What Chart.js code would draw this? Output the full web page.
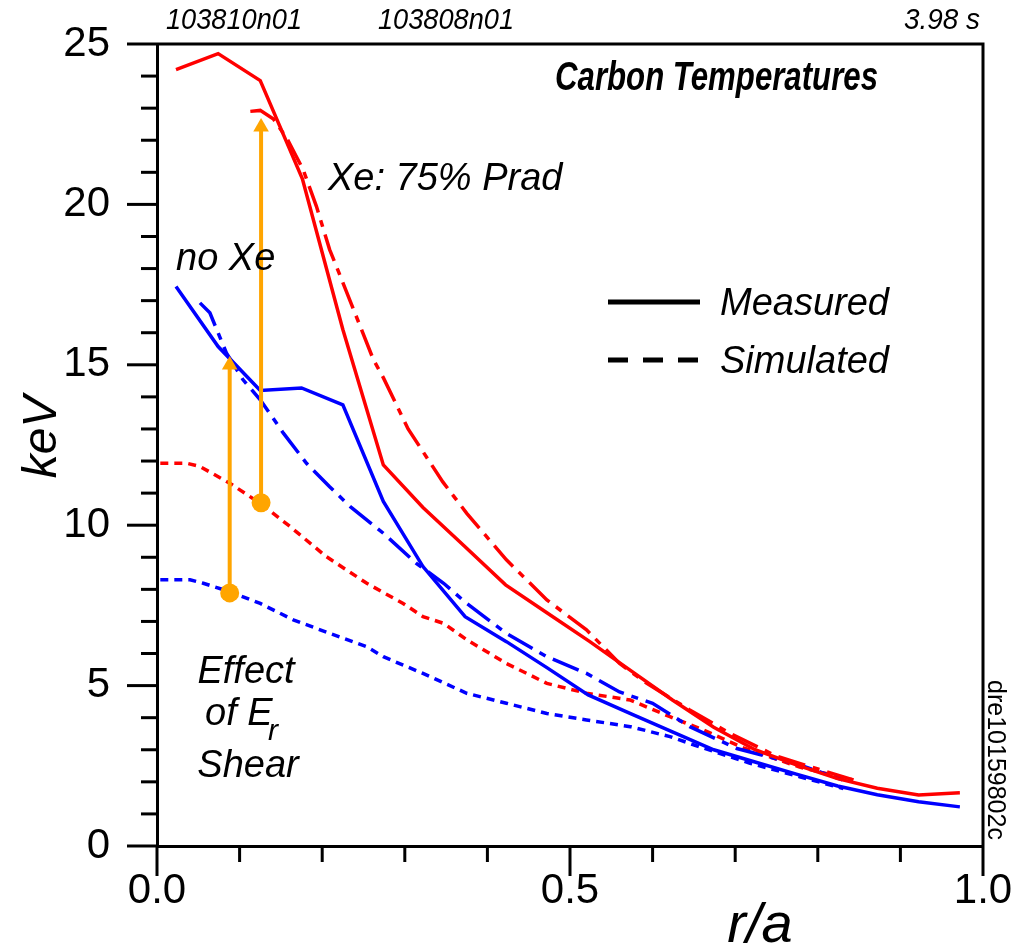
<!DOCTYPE html>
<html>
<head>
<meta charset="utf-8">
<script src="https://cdn.jsdelivr.net/npm/chart.js@4/dist/chart.umd.min.js"></script>
<style>
  html, body { margin: 0; padding: 0; background: #fff; }
  canvas { display: block; }
</style>
</head>
<body>
<canvas id="tempChart" width="1017" height="946"></canvas>
<script>
// Carbon temperature profiles, r/a vs keV
const kevLabels = [0, 5, 10, 15, 20, 25];
const raLabels = [0, 0.5, 1.0];

// measured, Xe: 75% Prad
const xeMeasR = [0.023, 0.074, 0.125, 0.176, 0.225, 0.274, 0.322, 0.372, 0.422, 0.472, 0.524, 0.574, 0.624, 0.674, 0.724, 0.774, 0.824, 0.872, 0.922, 0.972];
const xeMeasT = [24.2, 24.7, 23.86, 20.8, 16.1, 11.88, 10.55, 9.35, 8.14, 7.27, 6.37, 5.46, 4.55, 3.7, 3.0, 2.53, 2.1, 1.8, 1.59, 1.66];

// measured, no Xe
const noXeMeasR = [0.023, 0.074, 0.125, 0.175, 0.225, 0.274, 0.322, 0.373, 0.423, 0.472, 0.522, 0.574, 0.624, 0.674, 0.724, 0.774, 0.824, 0.872, 0.922, 0.972];
const noXeMeasT = [17.44, 15.57, 14.2, 14.28, 13.75, 10.74, 8.71, 7.15, 6.37, 5.56, 4.71, 4.12, 3.56, 3.0, 2.62, 2.24, 1.87, 1.6, 1.38, 1.22];

// simulated with Er shear, Xe
const xeSimR = [0.113, 0.125, 0.141, 0.157, 0.177, 0.193, 0.209, 0.222, 0.262, 0.274, 0.304, 0.346, 0.375, 0.423, 0.472, 0.52, 0.56, 0.593, 0.645, 0.694, 0.75, 0.8, 0.843];
const xeSimT = [22.9, 22.93, 22.66, 22.07, 21.08, 19.94, 18.59, 17.76, 15.16, 14.6, 13.0, 11.35, 10.37, 8.92, 7.67, 6.74, 5.69, 5.07, 4.24, 3.51, 2.8, 2.4, 2.06];

// simulated without Er shear, Xe
const xeNoShearR = [0.004, 0.036, 0.052, 0.088, 0.125, 0.161, 0.205, 0.254, 0.298, 0.322, 0.347, 0.375, 0.423, 0.472, 0.52, 0.573, 0.621, 0.661, 0.71, 0.778, 0.843];
const xeNoShearT = [11.93, 11.93, 11.83, 11.31, 10.68, 9.96, 9.02, 8.19, 7.56, 7.15, 6.94, 6.43, 5.69, 5.07, 4.76, 4.55, 4.03, 3.62, 3.06, 2.46, 2.06];

// simulated with Er shear, no Xe
const noXeSimR = [0.052, 0.064, 0.084, 0.104, 0.125, 0.153, 0.181, 0.209, 0.234, 0.274, 0.314, 0.347, 0.375, 0.423, 0.472, 0.52, 0.56, 0.6, 0.645, 0.702, 0.778, 0.83];
const noXeSimT = [16.93, 16.62, 15.37, 14.54, 13.91, 12.87, 11.93, 11.2, 10.58, 9.75, 8.81, 8.19, 7.56, 6.63, 5.9, 5.38, 4.8, 4.45, 3.72, 3.04, 2.53, 2.06];

// simulated without Er shear, no Xe
const noXeNoShearR = [0.004, 0.04, 0.056, 0.088, 0.125, 0.165, 0.209, 0.254, 0.274, 0.322, 0.375, 0.423, 0.472, 0.52, 0.573, 0.621, 0.657, 0.718, 0.778, 0.831];
const noXeNoShearT = [8.3, 8.3, 8.19, 7.93, 7.56, 7.05, 6.63, 6.21, 5.9, 5.38, 4.76, 4.45, 4.13, 3.93, 3.72, 3.41, 3.09, 2.58, 2.16, 1.79];

// shear effect arrows: [from, to]
const arrowNoXeR = [0.088, 0.088];
const arrowNoXeT = [7.89, 14.99];
const arrowXeR = [0.126, 0.126];
const arrowXeT = [10.7, 22.41];

const RED = '#ff0000';
const BLUE = '#0000ff';
const ORANGE = '#ffa500';
const FONT = "'Liberation Sans', Arial, sans-serif";

function pts(xs, ys) {
    return xs.map((x, i) => ({ x: x, y: ys[i] }));
}

function profile(xs, ys, color, dash) {
    return {
        data: pts(xs, ys),
        borderColor: color,
        borderWidth: 3.5,
        borderDash: dash,
        pointRadius: 0,
        tension: 0,
        fill: false
    };
}

function arrow(xs, ys) {
    return {
        data: pts(xs, ys),
        borderColor: ORANGE,
        borderWidth: 4,
        pointStyle: ['circle', 'triangle'],
        pointRadius: [9.5, 9],
        pointBackgroundColor: ORANGE,
        pointBorderColor: ORANGE,
        pointBorderWidth: 0,
        tension: 0,
        fill: false
    };
}

// draw text squeezed horizontally into a given width (condensed look)
function squeezeText(ctx, text, x, y, width) {
    const w = ctx.measureText(text).width;
    ctx.save();
    ctx.translate(x, y);
    ctx.scale(Math.min(1, width / w), 1);
    ctx.textAlign = 'left';
    ctx.fillText(text, 0, 0);
    ctx.restore();
}

// frame, tick marks and text annotations
const decorations = {
    id: 'decorations',
    afterDraw(chart) {
        const ctx = chart.ctx;
        const area = chart.chartArea;
        const xs = chart.scales.x;
        const ys = chart.scales.y;
        ctx.save();
        ctx.strokeStyle = '#000';
        ctx.lineWidth = 3;
        ctx.lineCap = 'butt';

        // top and right frame
        ctx.beginPath();
        ctx.moveTo(area.left, area.top);
        ctx.lineTo(area.right, area.top);
        ctx.lineTo(area.right, area.bottom);
        ctx.stroke();

        // ticks on the left axis
        ys.ticks.forEach(t => {
            const y = ys.getPixelForValue(t.value);
            const len = kevLabels.includes(Math.round(t.value)) ? 30 : 16;
            ctx.beginPath();
            ctx.moveTo(area.left - len, y);
            ctx.lineTo(area.left, y);
            ctx.stroke();
        });
        // ticks on the bottom axis
        xs.ticks.forEach(t => {
            const x = xs.getPixelForValue(t.value);
            const major = raLabels.some(v => Math.abs(v - t.value) < 1e-6);
            const len = major ? 30 : 16;
            ctx.beginPath();
            ctx.moveTo(x, area.bottom);
            ctx.lineTo(x, area.bottom + len);
            ctx.stroke();
        });

        ctx.fillStyle = '#000';
        ctx.textBaseline = 'alphabetic';

        // shot numbers and time above the frame
        ctx.font = 'italic 29px ' + FONT;
        squeezeText(ctx, '103810n01', 166, 29, 136);
        squeezeText(ctx, '103808n01', 378, 29, 136);
        squeezeText(ctx, '3.98 s', 904, 29, 76);

        // title
        ctx.font = 'italic bold 40px ' + FONT;
        squeezeText(ctx, 'Carbon Temperatures', 555, 90, 323);

        // curve labels
        ctx.textAlign = 'left';
        ctx.font = 'italic 38px ' + FONT;
        ctx.fillText('Xe: 75% Prad', 328, 190);
        ctx.fillText('no Xe', 176, 270);

        // legend
        ctx.fillText('Measured', 720, 315);
        ctx.fillText('Simulated', 720, 373);
        ctx.lineWidth = 5;
        ctx.beginPath();
        ctx.moveTo(608, 302);
        ctx.lineTo(700, 302);
        ctx.stroke();
        ctx.setLineDash([20, 15]);
        ctx.beginPath();
        ctx.moveTo(608, 360);
        ctx.lineTo(700, 360);
        ctx.stroke();
        ctx.setLineDash([]);

        // Er shear note
        ctx.textAlign = 'center';
        ctx.fillText('Effect', 246, 683);
        ctx.fillText('Shear', 248, 777);
        ctx.textAlign = 'left';
        ctx.fillText('of E', 205, 725);
        ctx.font = 'italic 30px ' + FONT;
        ctx.fillText('r', 268, 740);

        // axis titles
        ctx.font = 'italic 56px ' + FONT;
        ctx.textAlign = 'center';
        ctx.fillText('r/a', 760, 942);

        ctx.save();
        ctx.translate(56, 437);
        ctx.rotate(-Math.PI / 2);
        ctx.font = 'italic 48px ' + FONT;
        ctx.fillText('keV', 0, 0);
        ctx.restore();

        // file tag on the right side
        ctx.save();
        ctx.translate(988, 760);
        ctx.rotate(Math.PI / 2);
        ctx.font = '25px ' + FONT;
        ctx.textAlign = 'center';
        ctx.fillText('dre10159802c', 0, 0);
        ctx.restore();

        ctx.restore();
    }
};

const chart = new Chart(document.getElementById('tempChart'), {
    type: 'line',
    data: {
        datasets: [
            arrow(arrowXeR, arrowXeT),
            arrow(arrowNoXeR, arrowNoXeT),
            profile(xeMeasR, xeMeasT, RED, []),
            profile(noXeMeasR, noXeMeasT, BLUE, []),
            profile(xeSimR, xeSimT, RED, [28, 8, 7, 8]),
            profile(noXeSimR, noXeSimT, BLUE, [28, 8, 7, 8]),
            profile(xeNoShearR, xeNoShearT, RED, [8, 6]),
            profile(noXeNoShearR, noXeNoShearT, BLUE, [8, 6])
        ]
    },
    options: {
        responsive: false,
        animation: false,
        devicePixelRatio: 1,
        layout: { padding: { top: 44, right: 34, left: 0, bottom: 0 } },
        plugins: {
            legend: { display: false },
            tooltip: { enabled: false }
        },
        scales: {
            x: {
                type: 'linear',
                min: 0,
                max: 1,
                grid: { display: false },
                border: { display: true, width: 3, color: '#000' },
                ticks: {
                    stepSize: 0.1,
                    autoSkip: false,
                    maxRotation: 0,
                    padding: 12,
                    color: '#000',
                    font: { family: FONT, size: 42 },
                    callback: v => raLabels.some(l => Math.abs(l - v) < 1e-6) ? v.toFixed(1) : ''
                },
                afterFit: s => {
                    s.height = 100;
                    s.paddingLeft = 0;
                    s.paddingRight = 0;
                }
            },
            y: {
                type: 'linear',
                min: 0,
                max: 25,
                grid: { display: false },
                border: { display: true, width: 3, color: '#000' },
                ticks: {
                    stepSize: 1,
                    autoSkip: false,
                    padding: 39,
                    color: '#000',
                    font: { family: FONT, size: 42 },
                    callback: v => kevLabels.includes(v) ? String(v) : ''
                },
                afterFit: s => {
                    s.width = 157;
                    s.paddingTop = 0;
                    s.paddingBottom = 0;
                }
            }
        }
    },
    plugins: [decorations]
});
</script>
</body>
</html>
